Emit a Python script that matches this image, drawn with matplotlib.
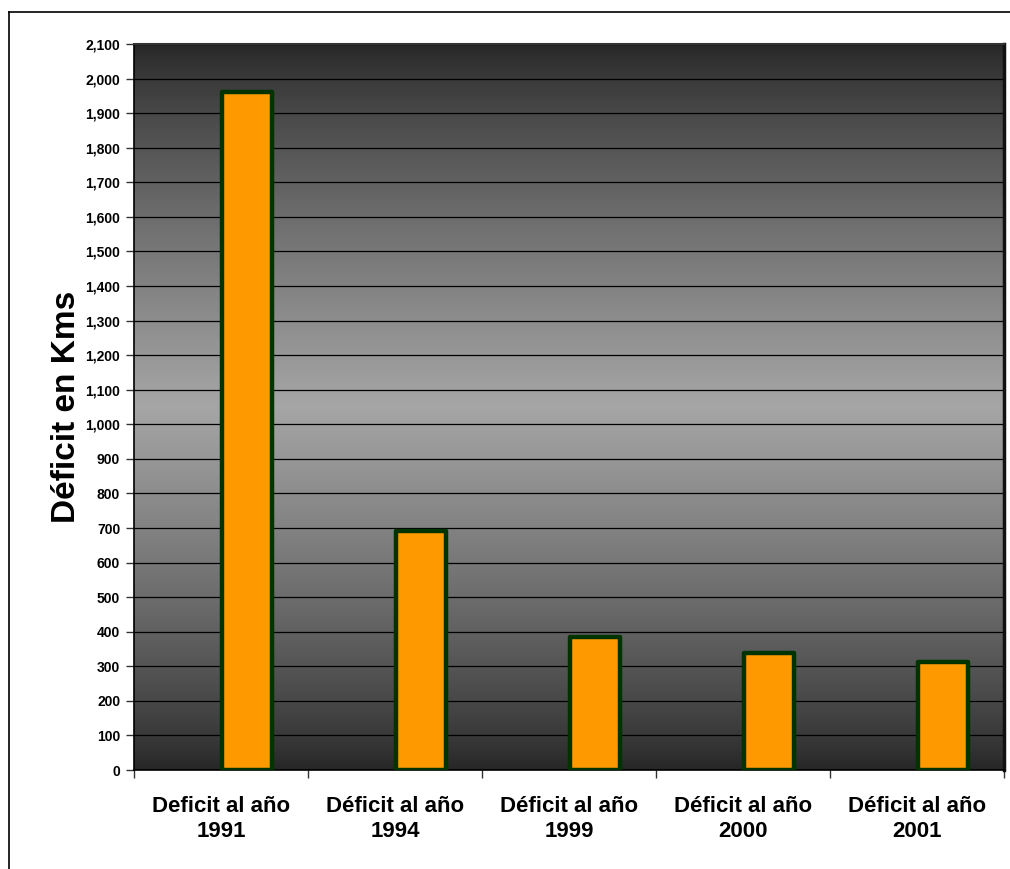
import matplotlib.pyplot as plt
from matplotlib.lines import Line2D
from matplotlib.ticker import FuncFormatter, MultipleLocator
import numpy as np

# ---------- DATA ----------
categorias = ["Deficit al año\n1991", "Déficit al año\n1994", "Déficit al año\n1999",
              "Déficit al año\n2000", "Déficit al año\n2001"]
deficit_kms = [1960, 690, 386, 338, 312]

plt.rcParams['font.family'] = ['Liberation Sans', 'DejaVu Sans']
plt.rcParams['font.weight'] = 'bold'

fig = plt.figure(figsize=(10.10, 8.69), dpi=100)
ax = fig.add_axes([0.1327, 0.1139, 0.8613, 0.8355])

# ---------- BACKGROUND GRADIENT ----------
t = np.linspace(0, 1, 256)
gris = 0.15 + 0.50 * (1 - np.abs(2 * t - 1)) ** 0.8
grad = np.dstack([gris, gris, gris]).reshape(256, 1, 3)
ax.imshow(grad, extent=[-0.5, 4.5, 0, 2100], aspect='auto', origin='lower', zorder=0)

# ---------- BARS ----------
x = np.arange(len(categorias))
ax.bar(x + 0.005, deficit_kms, width=0.29, align='edge', color='#FF9900',
       edgecolor='#003300', linewidth=3.2, joinstyle='round', zorder=3)

# ---------- AXES ----------
ax.set_xlim(-0.5, 4.5)
ax.set_ylim(0, 2100)
ax.yaxis.set_major_locator(MultipleLocator(100))
ax.yaxis.set_major_formatter(FuncFormatter(lambda v, p: f"{int(v):,}"))
ax.grid(axis='y', color='black', linewidth=0.9, zorder=1)
ax.set_axisbelow(True)

ax.set_xticks(x)
ax.set_xticklabels(categorias, fontsize=16, fontweight='bold', linespacing=1.2)
ax.set_xticks(np.arange(-0.5, 5.0, 1.0), minor=True)
ax.tick_params(axis='x', which='major', length=0, pad=19)
ax.tick_params(axis='x', which='minor', length=6, width=1, direction='out', color='#333333')
ax.tick_params(axis='y', length=6, width=1, direction='out', labelsize=10, pad=4, color='#333333')
for lbl in ax.get_yticklabels():
    lbl.set_fontweight('bold')

ax.set_ylabel("Déficit en Kms", fontsize=24, fontweight='bold', labelpad=2)

for side in ['left', 'bottom']:
    ax.spines[side].set_color('black')
    ax.spines[side].set_linewidth(1.2)
ax.spines['top'].set_color('#333333')
ax.spines['top'].set_linewidth(1.5)
ax.spines['right'].set_color('#111111')
ax.spines['right'].set_linewidth(2.5)

# ---------- OUTER FRAME ----------
fig.add_artist(Line2D([9 / 1010, 1.0], [1 - 12 / 869, 1 - 12 / 869],
                      color='black', linewidth=1.2, transform=fig.transFigure))
fig.add_artist(Line2D([9 / 1010, 9 / 1010], [0.0, 1 - 12 / 869],
                      color='black', linewidth=1.2, transform=fig.transFigure))

fig.savefig("out.png", dpi=100)
